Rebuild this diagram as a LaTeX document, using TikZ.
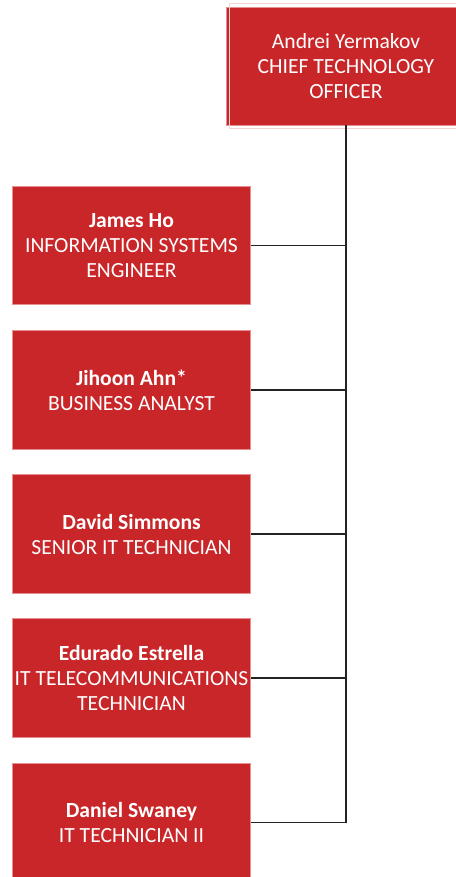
\documentclass[tikz,border=0pt]{standalone}
\usepackage{fontspec}
\setmainfont{Carlito}
\definecolor{boxred}{RGB}{200,38,41}
\definecolor{boxedge}{RGB}{230,145,145}
\definecolor{linegray}{RGB}{35,35,35}
\tikzset{every picture/.style={line width=0.75pt}}
\tikzset{
  staffbox/.style={fill=boxred, draw=boxedge, line width=0.6pt, text=white,
    minimum width=179pt, minimum height=89pt, inner sep=0pt, align=center,
    font=\fontsize{16.2}{18.75}\selectfont},
  orgline/.style={draw=linegray, line width=1pt}
}

\begin{document}
\begin{tikzpicture}[x=0.75pt,y=0.75pt,yscale=-1,xscale=1]
\useasboundingbox (0,0) rectangle (455,877);

%Shape: Rectangle [id:ceo] 
\node [staffbox, minimum height=88.5pt] (ceo) at (346,66) {Andrei Yermakov\\CHIEF TECHNOLOGY\\OFFICER};
\draw [white!80!boxred, line width=1pt] ([shift={(2.5pt,-2.5pt)}]ceo.north west) rectangle ([shift={(-2.5pt,2.5pt)}]ceo.south east);

%Shape: Rectangle [id:staff] 
\node [staffbox] (jho) at (131.5,245.5) {\textbf{James Ho}\\INFORMATION SYSTEMS\\ENGINEER};
\node [staffbox] (jahn) at (131.5,390) {\textbf{Jihoon Ahn*}\\BUSINESS ANALYST};
\node [staffbox] (dsimmons) at (131.5,534) {\textbf{David Simmons}\\SENIOR IT TECHNICIAN};
\node [staffbox] (eestrella) at (131.5,678) {\textbf{Edurado Estrella}\\IT TELECOMMUNICATIONS\\TECHNICIAN};
\node [staffbox] (dswaney) at (131.5,822.5) {\textbf{Daniel Swaney}\\IT TECHNICIAN II};

%Straight Lines [id:trunk] 
\draw [orgline, line width=1.5pt] (ceo.south) -- (dswaney.east -| ceo.south);
%Straight Lines [id:branches] 
\foreach \n in {jho,jahn,dsimmons,eestrella,dswaney}
  \draw [orgline] (\n.east) -- (\n.east -| ceo.south);

\end{tikzpicture}
\end{document}
